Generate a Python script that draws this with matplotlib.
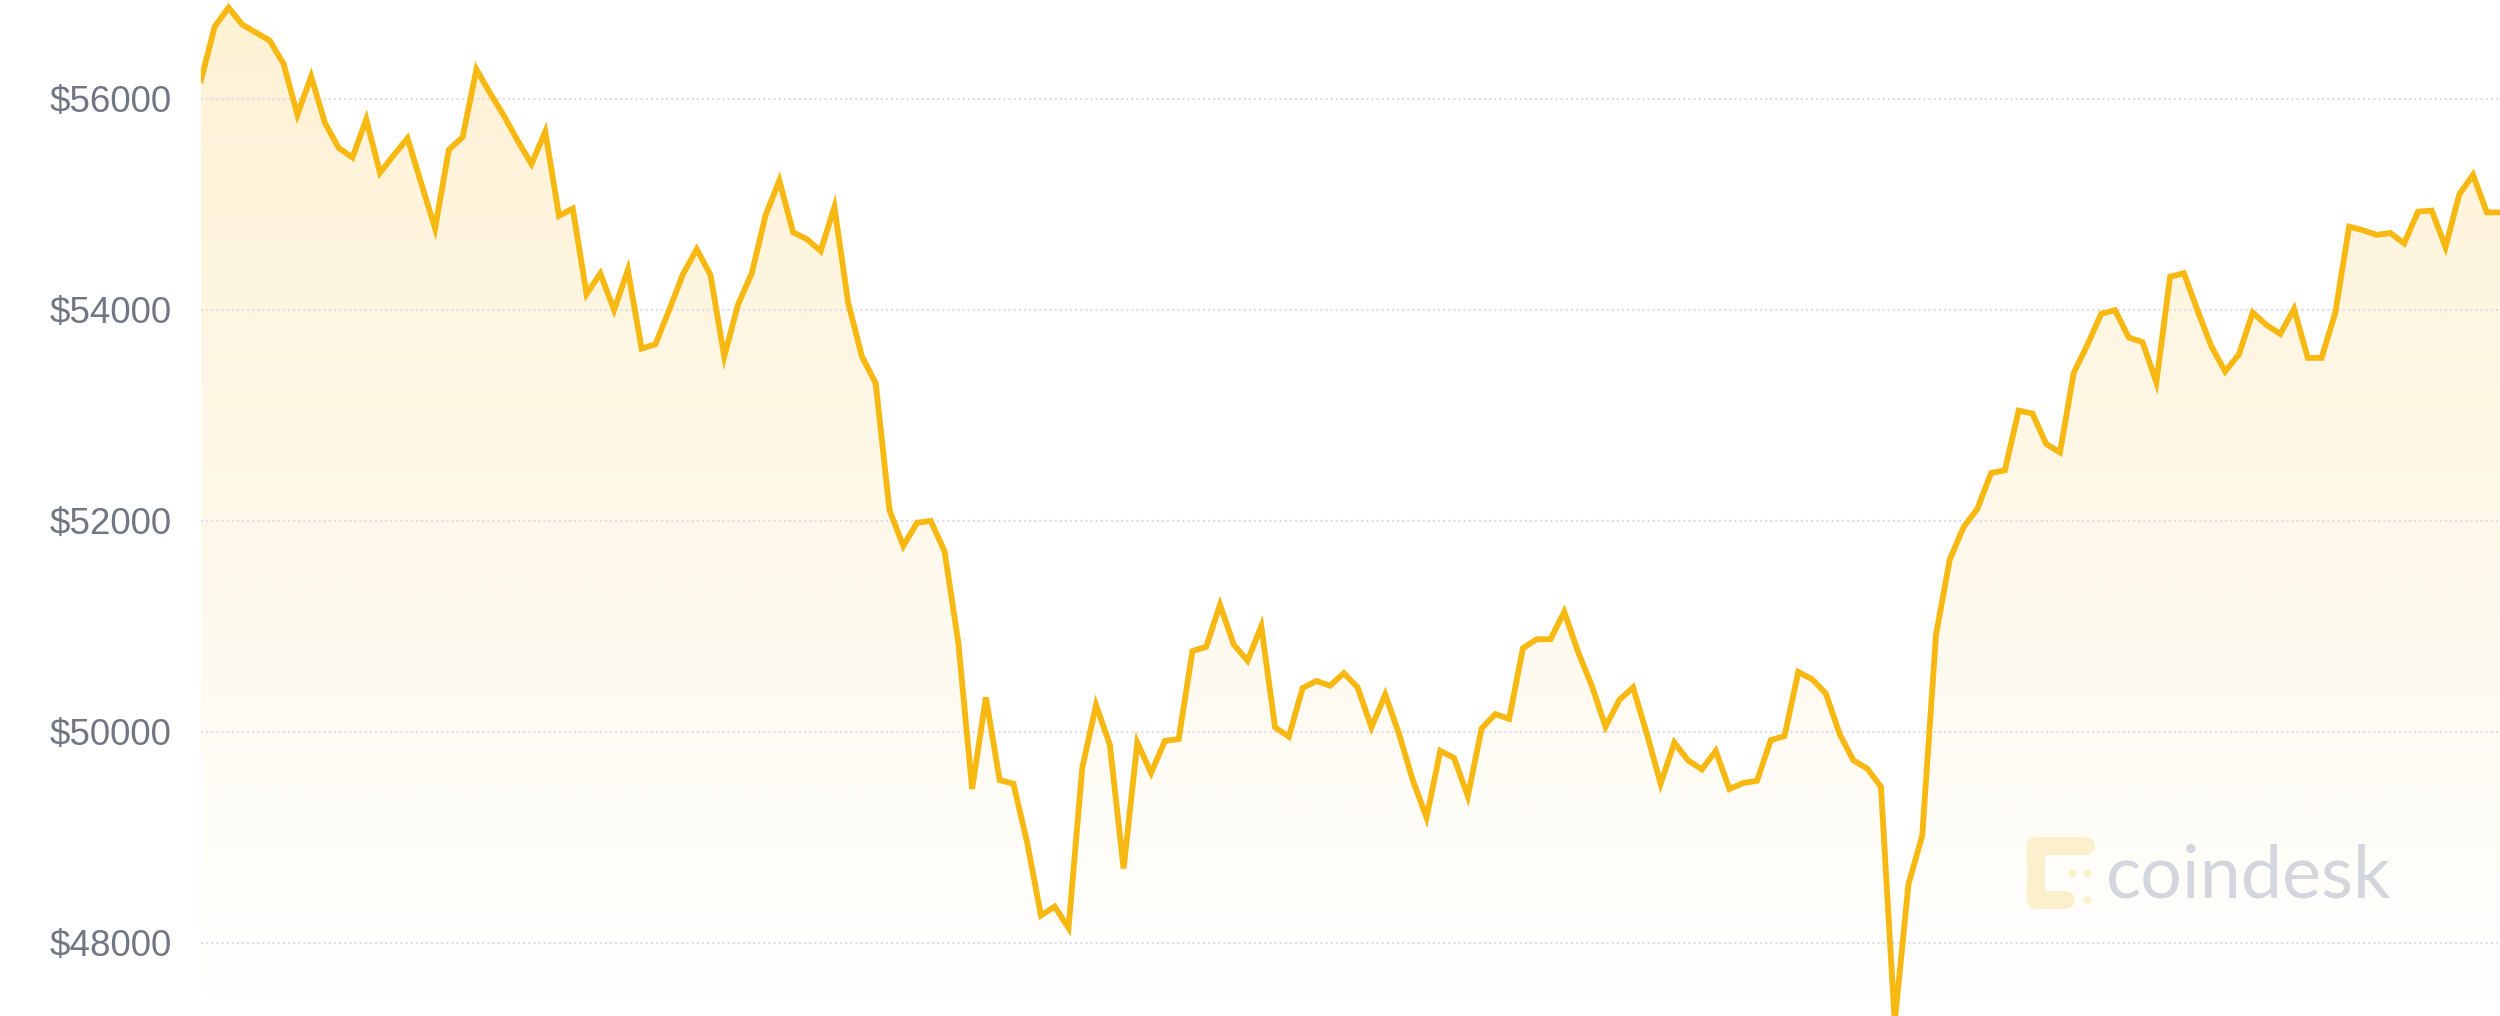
import numpy as np
import matplotlib
matplotlib.use("Agg")
import matplotlib.pyplot as plt
from matplotlib.patches import PathPatch
import matplotlib.lines as mlines

# ---- data (BTC price, USD) ----
prices = [
    56179, 56687, 56866, 56704, 56629, 56552, 56332, 55851, 56213, 55773,
    55536, 55445, 55807, 55300, 55469, 55628, 55198, 54775, 55519, 55638,
    56281, 56054, 55841, 55604, 55384, 55689, 54893, 54961, 54150, 54346,
    54000, 54380, 53634, 53675, 54000, 54339, 54576, 54332, 53559, 54051,
    54349, 54898, 55227, 54736, 54671, 54559, 54976, 54068, 53559, 53305,
    52102, 51763, 51983, 52000, 51712, 50847, 49460, 50328, 49544, 49510,
    48950, 48261, 48345, 48143, 49662, 50254, 49882, 48706, 49899, 49612,
    49916, 49933, 50767, 50808, 51206, 50828, 50676, 51003, 50044, 49956,
    50416, 50483, 50439, 50558, 50422, 50044, 50355, 49983, 49544, 49190,
    49821, 49754, 49392, 50034, 50169, 50125, 50794, 50879, 50879, 51139,
    50760, 50439, 50051, 50304, 50422, 49983, 49510, 49899, 49730, 49646,
    49821, 49460, 49517, 49537, 49923, 49962, 50569, 50500, 50365, 49981,
    49731, 49654, 49481, 47250, 48558, 49019, 50923, 51635, 51942, 52115,
    52454, 52481, 53046, 53019, 52730, 52650, 53404, 53672, 53965, 53998,
    53739, 53695, 53315, 54315, 54349, 53993, 53654, 53417, 53580, 53976,
    53858, 53773, 54010, 53546, 53546, 53976, 54790, 54756, 54712, 54729,
    54631, 54932, 54942, 54597, 55095, 55281, 54925, 54925,
]
ytick_values = [48000, 50000, 52000, 54000, 56000]
ytick_labels = ["$48000", "$50000", "$52000", "$54000", "$56000"]
watermark_text = "coindesk"

# ---- figure ----
W, H, DPI = 2500, 1016, 100
fig = plt.figure(figsize=(W / DPI, H / DPI), dpi=DPI, facecolor="white")
ax_left = 201 / W
ax = fig.add_axes([ax_left, 0.0, 1.0 - ax_left, 1.0])
ax.set_facecolor("white")

x = np.arange(len(prices))
y = np.array(prices, dtype=float)

ymin, ymax = 47308, 56938
xmax = (W - 201) / 13.77
ax.set_xlim(0, xmax)
ax.set_ylim(ymin, ymax)

gold = "#F8B812"

# gradient fill under the line
poly = ax.fill_between(x, y, ymin - 1000, facecolor="none", edgecolor="none")
path = poly.get_paths()[0]
clip_patch = PathPatch(path, transform=ax.transData, facecolor="none", edgecolor="none")
ax.add_patch(clip_patch)
n = 512
grad = np.zeros((n, 1, 4))
grad[:, 0, 0] = 251 / 255
grad[:, 0, 1] = 186 / 255
grad[:, 0, 2] = 26 / 255
grad[:, 0, 3] = np.linspace(0.0, 0.19, n)
im = ax.imshow(grad, extent=[0, xmax, ymin, ymax], origin="lower",
               aspect="auto", zorder=1, interpolation="bilinear")
im.set_clip_path(clip_patch)
ax.set_xlim(0, xmax)
ax.set_ylim(ymin, ymax)

# dotted gridlines
for v in ytick_values:
    ax.axhline(v, color="#DCDFEC", linewidth=1.6, linestyle=(0, (1.0, 1.3)), zorder=2)

# price line
ax.plot(x, y, color=gold, linewidth=4.2, solid_joinstyle="miter", zorder=3)

# axes styling
for s in ax.spines.values():
    s.set_visible(False)
ax.set_xticks([])
ax.set_yticks(ytick_values)
ax.set_yticklabels(ytick_labels)
ax.tick_params(axis="y", length=0, pad=21, labelsize=26.5, labelcolor="#717782")
for t in ax.get_yticklabels():
    t.set_fontfamily(["Liberation Sans", "DejaVu Sans"])

# watermark logo (pale yellow bracket) + text
logo_color = "#FCF0CC"
def fx(px):
    return px / W
def fy(py):
    return 1 - py / H
segs = [((2036, 846), (2086, 846)), ((2036, 846), (2036, 900)), ((2036, 900), (2066, 900))]
for (a, b) in segs:
    fig.add_artist(mlines.Line2D([fx(a[0]), fx(b[0])], [fy(a[1]), fy(b[1])],
                                 color=logo_color, linewidth=13, solid_capstyle="round",
                                 transform=fig.transFigure, zorder=5))
for (px, py, r) in [(2072, 873, 3.5), (2087, 873, 3.5), (2087, 900, 3.5)]:
    fig.add_artist(mlines.Line2D([fx(px)], [fy(py)], marker="o", markersize=r * 1.4,
                                 color=logo_color, transform=fig.transFigure, zorder=5))
fig.text(fx(2106), fy(898), watermark_text, fontsize=53, color="#D3D6DC",
         family=["Lato", "DejaVu Sans"], ha="left", va="baseline", zorder=5)

fig.savefig("out.png", dpi=DPI, facecolor="white")
